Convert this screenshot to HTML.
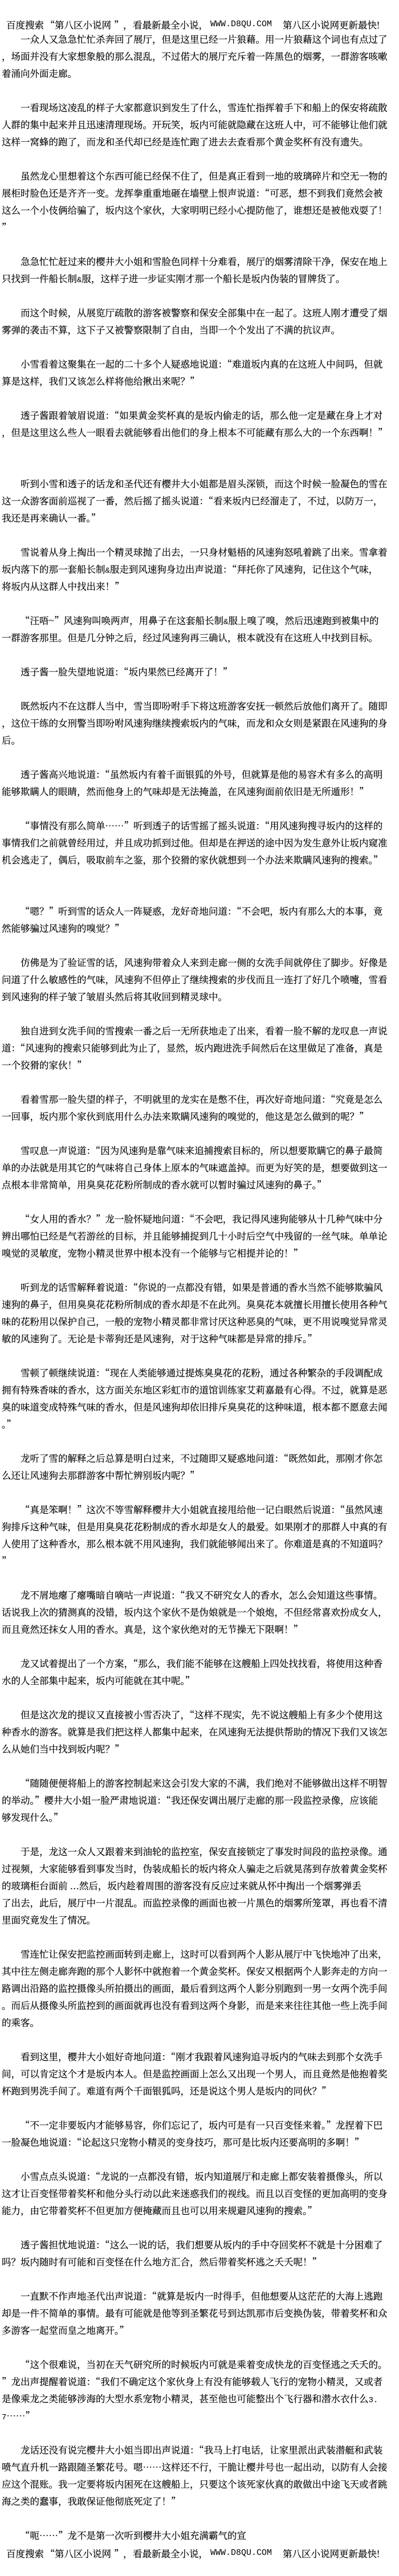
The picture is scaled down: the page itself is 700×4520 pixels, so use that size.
<!DOCTYPE html>
<html lang="zh-CN"><head><meta charset="utf-8">
<style>
html,body{margin:0;padding:0;background:#fff}
body{position:relative;width:700px;height:4520px;overflow:hidden;color:#000;font-family:"Noto Serif CJK SC","Noto Sans CJK SC",serif;font-size:16.5px;font-weight:400;-webkit-text-stroke:.2px #000}
p{position:absolute;left:3px;margin:0;line-height:30px;white-space:pre;text-indent:33px}
.h{position:absolute;line-height:30px;white-space:pre}
.m{font-family:"Liberation Mono",monospace;font-size:14px;line-height:0;-webkit-text-stroke:0}
.w{font-size:15px}
</style></head><body>
<div class="h" style="left:11px;top:28px">百度搜索</div><div class="h" style="left:80px;top:28px">“</div><div class="h" style="left:96px;top:28px">第八区小说网</div><div class="h" style="left:200px;top:28px">”</div><div class="h" style="left:216px;top:28px">，</div><div class="h" style="left:233px;top:28px">看最新最全小说，</div><div class="h m w" style="left:369px;top:28px;line-height:30px">WWW.D8QU.COM</div><div class="h" style="left:496px;top:28px">第八区小说网更新最快!</div>

<p style="top:53px">一众人又急急忙忙杀奔回了展厅，但是这里已经一片狼藉。用一片狼藉这个词也有点过了
，场面并没有大家想象般的那么混乱，不过偌大的展厅充斥着一阵黑色的烟雾，一群游客咳嗽
着涌向外面走廊。</p>
<p style="top:173px">一看现场这凌乱的样子大家都意识到发生了什么，雪连忙指挥着手下和船上的保安将疏散
人群的集中起来并且迅速清理现场。开玩笑，坂内可能就隐藏在这班人中，可不能够让他们就
这样一窝蜂的跑了，而龙和圣代却已经是连忙跑了进去去查看那个黄金奖杯有没有遗失。</p>
<p style="top:293px">虽然龙心里想着这个东西可能已经保不住了，但是真正看到一地的玻璃碎片和空无一物的
展柜时脸色还是齐齐一变。龙挥拳重重地砸在墙壁上恨声说道：“可恶，想不到我们竟然会被
这么一个小伎俩给骗了，坂内这个家伙，大家明明已经小心提防他了，谁想还是被他戏耍了！
”</p>
<p style="top:443px">急急忙忙赶过来的樱井大小姐和雪脸色同样十分难看，展厅的烟雾清除干净，保安在地上
只找到一件船长制<span class="m">&amp;</span>服，这样子进一步证实刚才那一个船长是坂内伪装的冒牌货了。</p>
<p style="top:533px">而这个时候，从展览厅疏散的游客被警察和保安全部集中在一起了。这班人刚才遭受了烟
雾弹的袭击不算，这下子又被警察限制了自由，当即一个个发出了不满的抗议声。</p>
<p style="top:623px">小雪看着这聚集在一起的二十多个人疑惑地说道：“难道坂内真的在这班人中间吗，但就
算是这样，我们又该怎么样将他给揪出来呢？”</p>
<p style="top:713px">透子酱跟着皱眉说道：“如果黄金奖杯真的是坂内偷走的话，那么他一定是藏在身上才对
，但是这里这么些人一眼看去就能够看出他们的身上根本不可能藏有那么大的一个东西啊！”</p>
<p style="top:833px">听到小雪和透子的话龙和圣代还有樱井大小姐都是眉头深锁，而这个时候一脸凝色的雪在
这一众游客面前巡视了一番，然后摇了摇头说道：“看来坂内已经溜走了，不过，以防万一，
我还是再来确认一番。”</p>
<p style="top:953px">雪说着从身上掏出一个精灵球抛了出去，一只身材魁梧的风速狗怒吼着跳了出来。雪拿着
坂内落下的那一套船长制<span class="m">&amp;</span>服走到风速狗身边出声说道：“拜托你了风速狗，记住这个气味，
将坂内从这群人中找出来！”</p>
<p style="top:1073px">“汪唔~”风速狗叫唤两声，用鼻子在这套船长制<span class="m">&amp;</span>服上嗅了嗅，然后迅速跑到被集中的
一群游客那里。但是几分钟之后，经过风速狗再三确认，根本就没有在这班人中找到目标。</p>
<p style="top:1163px">透子酱一脸失望地说道：“坂内果然已经离开了！”</p>
<p style="top:1223px">既然坂内不在这群人当中，雪当即吩咐手下将这班游客安抚一顿然后放他们离开了。随即
，这位干练的女刑警当即吩咐风速狗继续搜索坂内的气味，而龙和众女则是紧跟在风速狗的身
后。</p>
<p style="top:1343px">透子酱高兴地说道：“虽然坂内有着千面银狐的外号，但就算是他的易容术有多么的高明
能够欺瞒人的眼睛，然而他身上的气味却是无法掩盖，在风速狗面前依旧是无所遁形！”</p>
<p style="top:1433px">“事情没有那么简单……”听到透子的话雪摇了摇头说道：“用风速狗搜寻坂内的这样的
事情我们之前就曾经用过，并且成功抓到过他。但却是在押送的途中因为发生意外让坂内窥准
机会逃走了，偶后，吸取前车之鉴，那个狡猾的家伙就想到一个办法来欺瞒风速狗的搜索。”</p>
<p style="top:1583px">“嗯？”听到雪的话众人一阵疑惑，龙好奇地问道：“不会吧，坂内有那么大的本事，竟
然能够骗过风速狗的嗅觉？”</p>
<p style="top:1673px">仿佛是为了验证雪的话，风速狗带着众人来到走廊一侧的女洗手间就停住了脚步。好像是
问道了什么敏感性的气味，风速狗不但停止了继续搜索的步伐而且一连打了好几个喷嚏，雪看
到风速狗的样子皱了皱眉头然后将其收回到精灵球中。</p>
<p style="top:1793px">独自进到女洗手间的雪搜索一番之后一无所获地走了出来，看着一脸不解的龙叹息一声说
道：“风速狗的搜索只能够到此为止了，显然，坂内跑进洗手间然后在这里做足了准备，真是
一个狡猾的家伙！”</p>
<p style="top:1913px">看着雪那一脸失望的样子，不明就里的龙实在是憋不住，再次好奇地问道：“究竟是怎么
一回事，坂内那个家伙到底用什么办法来欺瞒风速狗的嗅觉的，他这是怎么做到的呢？”</p>
<p style="top:2003px">雪叹息一声说道：“因为风速狗是靠气味来追捕搜索目标的，所以想要欺瞒它的鼻子最简
单的办法就是用其它的气味将自己身体上原本的气味遮盖掉。而更为好笑的是，想要做到这一
点根本非常简单，用臭臭花花粉所制成的香水就可以暂时骗过风速狗的鼻子。”</p>
<p style="top:2123px">“女人用的香水？”龙一脸怀疑地问道：“不会吧，我记得风速狗能够从十几种气味中分
辨出哪怕已经是气若游丝的目标，并且能够捕捉到几十小时后空气中残留的一丝气味。单单论
嗅觉的灵敏度，宠物小精灵世界中根本没有一个能够与它相提并论的！”</p>
<p style="top:2243px">听到龙的话雪解释着说道：“你说的一点都没有错，如果是普通的香水当然不能够欺骗风
速狗的鼻子，但用臭臭花花粉所制成的香水却是不在此列。臭臭花本就擅长用擅长使用各种气
味的花粉用以保护自己，一般的宠物小精灵都非常讨厌这种恶臭的气味，更不用说嗅觉异常灵
敏的风速狗了。无论是卡蒂狗还是风速狗，对于这种气味都是异常的排斥。”</p>
<p style="top:2393px">雪顿了顿继续说道：“现在人类能够通过提炼臭臭花的花粉，通过各种繁杂的手段调配成
拥有特殊香味的香水，这方面关东地区彩虹市的道馆训练家艾莉嘉最有心得。不过，就算是恶
臭的味道变成特殊气味的香水，但是风速狗却依旧排斥臭臭花的这种味道，根本都不愿意去闻
。”</p>
<p style="top:2543px">龙听了雪的解释之后总算是明白过来，不过随即又疑惑地问道：“既然如此，那刚才你怎
么还让风速狗去那群游客中帮忙辨别坂内呢？”</p>
<p style="top:2633px">“真是笨啊！”这次不等雪解释樱井大小姐就直接甩给他一记白眼然后说道：“虽然风速
狗排斥这种气味，但是用臭臭花花粉制成的香水却是女人的最爱。如果刚才的那群人中真的有
人使用了这种香水，那么根本就不用风速狗，我们就能够闻出来了。你难道是真的不知道吗？
”</p>
<p style="top:2783px">龙不屑地瘪了瘪嘴暗自嘀咕一声说道：“我又不研究女人的香水，怎么会知道这些事情。
话说我上次的猜测真的没错，坂内这个家伙不是伪娘就是一个娘炮，不但经常喜欢扮成女人，
而且竟然还抹女人用的香水。真是，这个家伙绝对的无节操无下限啊！”</p>
<p style="top:2903px">龙又试着提出了一个方案，“那么，我们能不能够在这艘船上四处找找看，将使用这种香
水的人全部集中起来，坂内可能就在其中呢。”</p>
<p style="top:2993px">但是这次龙的提议又直接被小雪否决了，“这样不现实，先不说这艘船上有多少个使用这
种香水的游客。就算是我们把这样人都集中起来，在风速狗无法提供帮助的情况下我们又该怎
么从她们当中找到坂内呢？”</p>
<p style="top:3113px">“随随便便将船上的游客控制起来这会引发大家的不满，我们绝对不能够做出这样不明智
的举动。”樱井大小姐一脸严肃地说道：“我还保安调出展厅走廊的那一段监控录像，应该能
够发现什么。”</p>
<p style="top:3233px">于是，龙这一众人又跟着来到油轮的监控室，保安直接锁定了事发时间段的监控录像。通
过视频，大家能够看到事发当时，伪装成船长的坂内将众人骗走之后就晃荡到存放着黄金奖杯
的玻璃柜台面前 ...然后，坂内趁着周围的游客没有反应过来就从怀中掏出一个烟雾弹丢
了出去，此后，展厅中一片混乱。而监控录像的画面也被一片黑色的烟雾所笼罩，再也看不清
里面究竟发生了情况。</p>
<p style="top:3413px">雪连忙让保安把监控画面转到走廊上，这时可以看到两个人影从展厅中飞快地冲了出来，
其中往左侧走廊奔跑的那个人影怀中就抱着一个黄金奖杯。保安又根据两个人影奔走的方向一
路调出沿路的监控摄像头所拍摄出的画面，最后看到这两个人影分别跑到一男一女两个洗手间
。而后从摄像头所监控到的画面就再也没有看到这两个身影，而是来来往往其他一些上洗手间
的乘客。</p>
<p style="top:3593px">看到这里，樱井大小姐好奇地问道：“刚才我跟着风速狗追寻坂内的气味去到那个女洗手
间，可以肯定这个才是坂内本人。但是监控画面上怎么又出现一个男人，而且竟然是他抱着奖
杯跑到男洗手间了。难道有两个千面银狐吗，还是说这个男人是坂内的同伙？”</p>
<p style="top:3713px">“不一定非要坂内才能够易容，你们忘记了，坂内可是有一只百变怪来着。”龙捏着下巴
一脸凝色地说道：“论起这只宠物小精灵的变身技巧，那可是比坂内还要高明的多啊！”</p>
<p style="top:3803px">小雪点点头说道：“龙说的一点都没有错，坂内知道展厅和走廊上都安装着摄像头，所以
这才让百变怪带着奖杯和他分头行动以此来迷惑我们的视线。而且以百变怪的更加高明的变身
能力，由它带着奖杯不但更加方便掩藏而且也可以用来规避风速狗的搜索。”</p>
<p style="top:3923px">透子酱担忧地说道：“这么一说的话，我们想要从坂内的手中夺回奖杯不就是十分困难了
吗？坂内随时有可能和百变怪在什么地方汇合，然后带着奖杯逃之夭夭呢！”</p>
<p style="top:4013px">一直默不作声地圣代出声说道：“就算是坂内一时得手，但他想要从这茫茫的大海上逃跑
却是一件不简单的事情。最有可能就是他等到圣繁花号到达凯那市后变换伪装，带着奖杯和众
多游客一起堂而皇之地离开。”</p>
<p style="top:4133px">“这个很难说，当初在天气研究所的时候坂内可就是乘着变成快龙的百变怪逃之夭夭的。
”龙出声提醒着说道：“我们不确定这个家伙身上有没有能够载人飞行的宠物小精灵，又或者
是像乘龙之类能够涉海的大型水系宠物小精灵，甚至他也可能整出个飞行器和潜水衣什么<span class="m">3.</span>
<span class="m">7</span>……”</p>
<p style="top:4283px">龙话还没有说完樱井大小姐当即出声说道：“我马上打电话，让家里派出武装潜艇和武装
喷气直升机一路跟随圣繁花号。嗯……这样还不行，干脆让樱井号也一起出动，以防有人会接
应这个混账。我一定要将坂内困死在这艘船上，只要这个该死家伙真的敢做出中途飞天或者跳
海之类的蠢事，我敢保证他彻底死定了！”</p>
<p style="top:4433px">“呃……”龙不是第一次听到樱井大小姐充满霸气的宣</p>

<div class="h" style="left:11px;top:4465px">百度搜索</div><div class="h" style="left:80px;top:4465px">“</div><div class="h" style="left:96px;top:4465px">第八区小说网</div><div class="h" style="left:200px;top:4465px">”</div><div class="h" style="left:216px;top:4465px">，</div><div class="h" style="left:233px;top:4465px">看最新最全小说，</div><div class="h m w" style="left:369px;top:4465px;line-height:30px">WWW.D8QU.COM</div><div class="h" style="left:496px;top:4465px">第八区小说网更新最快!</div>
</body></html>
